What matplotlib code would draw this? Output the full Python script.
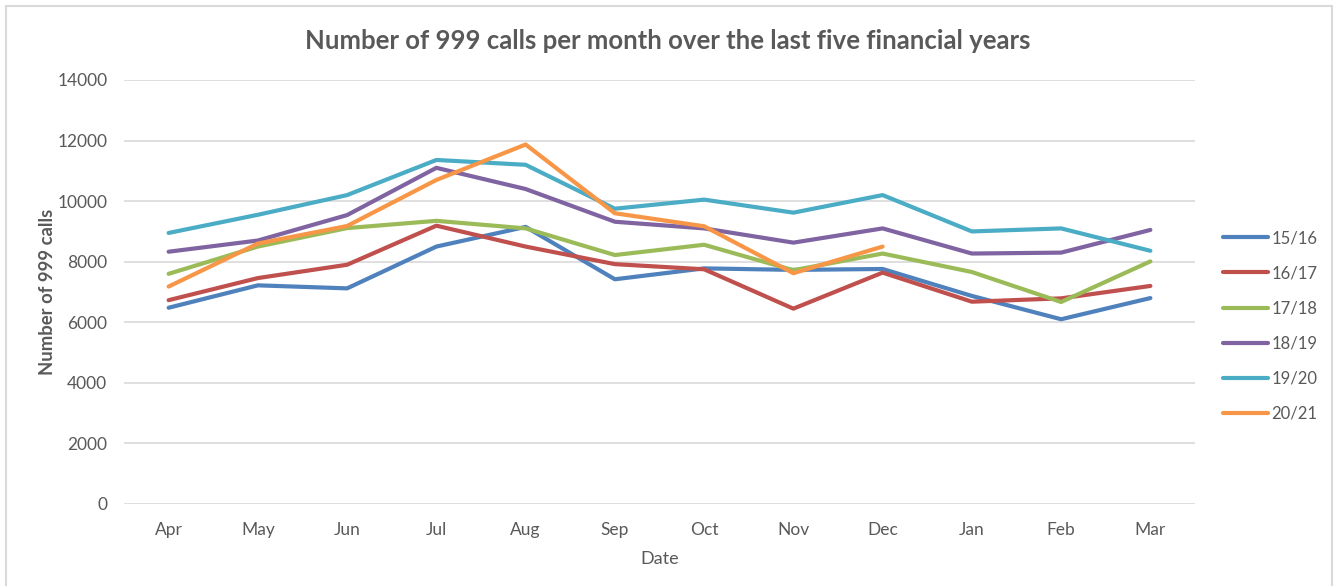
import matplotlib.pyplot as plt
from matplotlib.patches import Rectangle

# data
months = ["Apr", "May", "Jun", "Jul", "Aug", "Sep", "Oct", "Nov", "Dec", "Jan", "Feb", "Mar"]
fy_15_16 = [6480, 7220, 7120, 8500, 9150, 7420, 7780, 7730, 7760, 6870, 6100, 6800]
fy_16_17 = [6730, 7460, 7900, 9190, 8500, 7920, 7750, 6450, 7640, 6680, 6790, 7200]
fy_17_18 = [7600, 8500, 9110, 9350, 9100, 8220, 8560, 7720, 8270, 7660, 6670, 8010]
fy_18_19 = [8330, 8700, 9540, 11100, 10400, 9320, 9100, 8630, 9100, 8270, 8300, 9050]
fy_19_20 = [8950, 9550, 10200, 11360, 11200, 9750, 10050, 9620, 10200, 9000, 9100, 8360]
fy_20_21 = [7180, 8600, 9180, 10700, 11870, 9600, 9170, 7620, 8500]

series = [("15/16", fy_15_16, "#4F81BD"),
          ("16/17", fy_16_17, "#C0504D"),
          ("17/18", fy_17_18, "#9BBB59"),
          ("18/19", fy_18_19, "#8064A2"),
          ("19/20", fy_19_20, "#4BACC6"),
          ("20/21", fy_20_21, "#F79646")]

plt.rcParams['font.family'] = ['Lato', 'DejaVu Sans']
grey = "#595959"

fig = plt.figure(figsize=(13.36, 5.86), dpi=100)
ax = fig.add_axes([124/1336, 1 - 504/586, (1195 - 124)/1336, (504 - 80)/586])

for name, vals, col in series:
    ax.plot(months[:len(vals)], vals, color=col, lw=3, label=name, solid_capstyle='round')

ax.set_xlim(-0.5, 11.5)
ax.set_ylim(0, 14000)
ax.set_yticks(range(0, 14001, 2000))
ax.grid(axis='y', color="#d9d9d9", lw=1.2)
ax.set_axisbelow(True)
for s in ax.spines.values():
    s.set_visible(False)
ax.tick_params(length=0, colors=grey, labelsize=12.5, pad=12)
ax.tick_params(axis='x', pad=13)

ax.set_ylabel("Number of 999 calls", fontsize=13.3, fontweight='bold', color=grey)
ax.yaxis.set_label_coords(-0.0635, 0.5)
ax.set_xlabel("Date", fontsize=13, color=grey, labelpad=9)

fig.text(0.5, 1 - 41/586, "Number of 999 calls per month over the last five financial years",
         ha='center', va='center', fontsize=18.5, fontweight='bold', color=grey)

ax.legend(loc='center left', bbox_to_anchor=(1223/1336, 1 - 326/586), bbox_transform=fig.transFigure,
          frameon=False, fontsize=12, labelcolor=grey, handlelength=2.7, handletextpad=0.2,
          labelspacing=1.15, borderaxespad=0, borderpad=0)

fig.patches.append(Rectangle((6/1336, -0.05), (1332 - 6)/1336, 1.05 - 6/586,
                             transform=fig.transFigure, fill=False, ec="#d9d9d9", lw=1.5))

fig.savefig("out.png", dpi=100)
